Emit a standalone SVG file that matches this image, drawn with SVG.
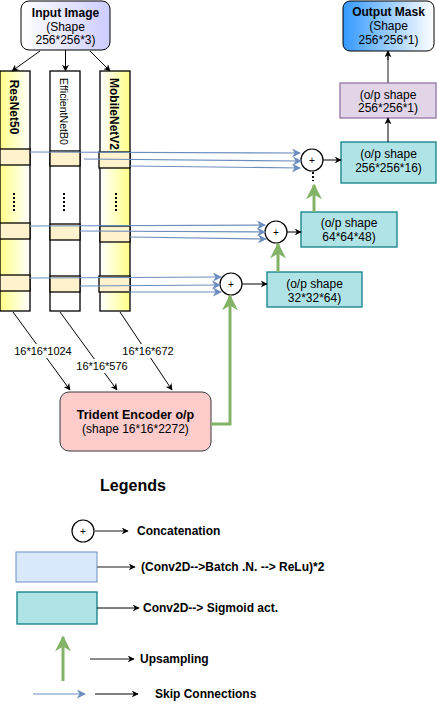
<svg xmlns="http://www.w3.org/2000/svg" width="437" height="704" viewBox="0 0 437 704">
<defs>
<linearGradient id="gIn" x1="0" y1="0" x2="1" y2="0"><stop offset="0" stop-color="#ffffff"/><stop offset="1" stop-color="#ccccff"/></linearGradient>
<linearGradient id="gOut" x1="0" y1="0" x2="1" y2="0"><stop offset="0" stop-color="#3399ff"/><stop offset="1" stop-color="#ffffff"/></linearGradient>
<linearGradient id="gYL" x1="0" y1="0" x2="1" y2="0"><stop offset="0" stop-color="#ffff88"/><stop offset="1" stop-color="#ffffff"/></linearGradient>
<linearGradient id="gYR" x1="0" y1="0" x2="1" y2="0"><stop offset="0" stop-color="#ffffff"/><stop offset="1" stop-color="#ffff88"/></linearGradient>
<marker id="aBlk" viewBox="0 0 10 10" refX="9" refY="5" markerWidth="7" markerHeight="7" markerUnits="userSpaceOnUse" orient="auto"><path d="M0,0 L10,5 L0,10 L3,5 Z" fill="#000"/></marker>
<marker id="aBlu" viewBox="0 0 10 10" refX="9" refY="5" markerWidth="9" markerHeight="9" markerUnits="userSpaceOnUse" orient="auto"><path d="M0,0 L10,5 L0,10 L3,5 Z" fill="#6c8ebf"/></marker>
<marker id="aGrn" viewBox="0 0 10 10" refX="9" refY="5" markerWidth="16" markerHeight="16" markerUnits="userSpaceOnUse" orient="auto"><path d="M0,0 L10,5 L0,10 L3,5 Z" fill="#82b366"/></marker>
</defs>
<style>
text{font-family:"Liberation Sans",Arial,sans-serif;font-size:12px;fill:#000}
.c{text-anchor:middle}
.b{font-weight:bold}
.col{stroke:#000;stroke-width:1.3}
.band{fill:#fff2cc;stroke:#000;stroke-width:1.3}
.teal{fill:#b0e3e6;stroke:#0e8088;stroke-width:1.3}
.circ{fill:#fff;stroke:#000;stroke-width:1.2}
.blk{stroke:#000;stroke-width:1;fill:none;marker-end:url(#aBlk)}
.gry{stroke:#666;stroke-width:1.5;fill:none;marker-end:url(#aBlk)}
.blu{stroke:#6c8ebf;stroke-width:1.2;fill:none;marker-end:url(#aBlu)}
.grn{stroke:#82b366;stroke-width:3;fill:none;marker-end:url(#aGrn)}
.dots{stroke:#000;stroke-width:2;stroke-dasharray:2 2}
.lbl{font-size:11px}
</style>

<g id="input-image">
<rect x="21" y="1" width="89" height="49" rx="8" fill="url(#gIn)" stroke="#000" stroke-width="1"/>
<text class="c b" x="65.5" y="17">Input Image</text>
<text class="c" x="65.5" y="31" fill="#333">(Shape</text>
<text class="c" x="65.5" y="44">256*256*3)</text>
</g>

<g id="resnet50">
<rect class="col" x="0" y="71" width="30" height="240" fill="url(#gYL)"/>
<rect class="band" x="0" y="149" width="30" height="16"/>
<rect class="band" x="0" y="223" width="30" height="16"/>
<rect class="band" x="0" y="275" width="30" height="16"/>
<text class="c b" transform="translate(10,107) rotate(90)">ResNet50</text>
<line class="dots" x1="14" y1="193" x2="14" y2="212"/>
</g>

<g id="efficientnetb0">
<rect class="col" x="50" y="71" width="30" height="240" fill="#fff"/>
<rect class="band" x="50" y="151" width="30" height="15"/>
<rect class="band" x="50" y="224" width="30" height="16"/>
<rect class="band" x="50" y="276" width="30" height="16"/>
<text class="c" style="font-size:10.5px" textLength="67" lengthAdjust="spacingAndGlyphs" transform="translate(60,111.5) rotate(90)">EfficientNetB0</text>
<line class="dots" x1="64" y1="193" x2="64" y2="212"/>
</g>

<g id="mobilenetv2">
<rect class="col" x="100" y="71" width="30" height="240" fill="url(#gYR)"/>
<rect class="band" x="99" y="152" width="31" height="16"/>
<rect class="band" x="100" y="226" width="30" height="16"/>
<rect class="band" x="99" y="276" width="31" height="16"/>
<text class="c b" style="font-size:13px" textLength="72" lengthAdjust="spacingAndGlyphs" transform="translate(110,114) rotate(90)">MobileNetV2</text>
<line class="dots" x1="116" y1="193" x2="116" y2="212"/>
</g>

<g id="trident-encoder">
<rect x="60" y="392" width="151" height="59" rx="9" fill="#ffcccc" stroke="#36393d" stroke-width="1"/>
<text class="c b" x="135.5" y="419" style="font-size:12.5px">Trident Encoder o/p</text>
<text class="c" x="135.5" y="433" fill="#333">(shape 16*16*2272)</text>
</g>

<g id="concat-1"><circle class="circ" cx="312" cy="160" r="11"/><text class="c" x="312" y="164" style="font-size:10px">+</text></g>
<g id="concat-2"><circle class="circ" cx="276" cy="232" r="11"/><text class="c" x="276" y="236" style="font-size:10px">+</text></g>
<g id="concat-3"><circle class="circ" cx="231" cy="284" r="11"/><text class="c" x="231" y="288" style="font-size:10px">+</text></g>

<g id="block-32">
<rect class="teal" x="267" y="272" width="95" height="35"/>
<text class="c" x="314.5" y="288">(o/p shape</text>
<text class="c" x="314.5" y="302">32*32*64)</text>
</g>
<g id="block-64">
<rect class="teal" x="301" y="212" width="96" height="35"/>
<text class="c" x="349" y="227">(o/p shape</text>
<text class="c" x="349" y="241">64*64*48)</text>
</g>
<g id="block-256-16">
<rect class="teal" x="341" y="142" width="95" height="41"/>
<text class="c" x="388.5" y="158">(o/p shape</text>
<text class="c" x="388.5" y="172">256*256*16)</text>
</g>
<g id="block-256-1">
<rect x="340" y="83" width="96" height="35" fill="#e1d5e7" stroke="#9673a6" stroke-width="1.3"/>
<text class="c" x="388" y="99">(o/p shape</text>
<text class="c" x="388" y="112">256*256*1)</text>
</g>
<g id="output-mask">
<rect x="343" y="1" width="91" height="50" rx="7" fill="url(#gOut)" stroke="#000" stroke-width="1"/>
<text class="c b" x="388.5" y="16">Output Mask</text>
<text class="c" x="388.5" y="30" fill="#333">(Shape</text>
<text class="c" x="388.5" y="44">256*256*1)</text>
</g>

<g id="connectors">
<line class="blk" x1="40" y1="51" x2="12" y2="71"/>
<line class="blk" x1="65.5" y1="50" x2="65.5" y2="71"/>
<line class="blk" x1="90" y1="51" x2="110" y2="71"/>

<line class="blu" x1="30" y1="152" x2="300" y2="153"/>
<line class="blu" x1="84" y1="159" x2="301" y2="161"/>
<line class="blu" x1="130" y1="166" x2="300" y2="168"/>
<line class="blu" x1="30" y1="226" x2="265" y2="225"/>
<line class="blu" x1="80" y1="231" x2="265" y2="232"/>
<line class="blu" x1="130" y1="237" x2="266" y2="239"/>
<line class="blu" x1="29" y1="278" x2="221" y2="277"/>
<line class="blu" x1="80" y1="286" x2="220" y2="285"/>
<line class="blu" x1="129" y1="292" x2="221" y2="292"/>

<line class="blk" x1="323" y1="160" x2="341" y2="160"/>
<line class="blk" x1="287" y1="232" x2="301" y2="232"/>
<line class="blk" x1="242" y1="284" x2="267" y2="284"/>
<line class="blk" x1="388" y1="142" x2="388" y2="118"/>
<line stroke="#666" stroke-width="1.5" x1="388" y1="83" x2="388" y2="55"/>
<line class="blk" x1="388" y1="60" x2="388" y2="51"/>

<line class="grn" x1="314" y1="212" x2="314" y2="185"/>
<line class="dots" x1="313" y1="172" x2="313" y2="181"/>
<line class="grn" x1="278" y1="272" x2="278" y2="244"/>
<path class="grn" d="M211,424 H230 V296"/>

<line class="blk" x1="13" y1="312" x2="70" y2="390"/>
<line class="blk" x1="60" y1="312" x2="117" y2="390"/>
<line class="blk" x1="120" y1="312" x2="172" y2="390"/>
<rect x="14" y="344" width="58" height="14" fill="#fff"/>
<text class="c lbl" x="43" y="355">16*16*1024</text>
<rect x="76" y="359" width="52" height="14" fill="#fff"/>
<text class="c lbl" x="102" y="370">16*16*576</text>
<rect x="122" y="344" width="52" height="14" fill="#fff"/>
<text class="c lbl" x="148" y="355">16*16*672</text>
</g>

<g id="legends">
<text class="c b" x="133" y="491" style="font-size:16px">Legends</text>
<circle class="circ" cx="83" cy="531" r="11"/><text class="c" x="83" y="535" style="font-size:10px">+</text>
<line class="gry" x1="94" y1="531" x2="128" y2="531"/>
<text class="b" x="137" y="535">Concatenation</text>
<rect x="16" y="552" width="81" height="30" fill="#dae8fc" stroke="#6c8ebf" stroke-width="1"/>
<line class="gry" x1="97" y1="567" x2="135" y2="567"/>
<text class="b" x="141" y="571">(Conv2D--&gt;Batch .N. --&gt; ReLu)*2</text>
<rect class="teal" x="17" y="592" width="80" height="32"/>
<line class="blk" x1="97" y1="608" x2="139" y2="608"/>
<text class="b" x="143" y="612">Conv2D--&gt; Sigmoid act.</text>
<line class="grn" x1="63" y1="681" x2="63" y2="637"/>
<line class="gry" x1="90" y1="659" x2="134" y2="659"/>
<text class="b" x="140" y="663">Upsampling</text>
<line class="blu" x1="33" y1="694" x2="85" y2="694"/>
<line class="blk" x1="95" y1="694" x2="138" y2="694"/>
<text class="b" x="155" y="698">Skip Connections</text>
</g>
</svg>
